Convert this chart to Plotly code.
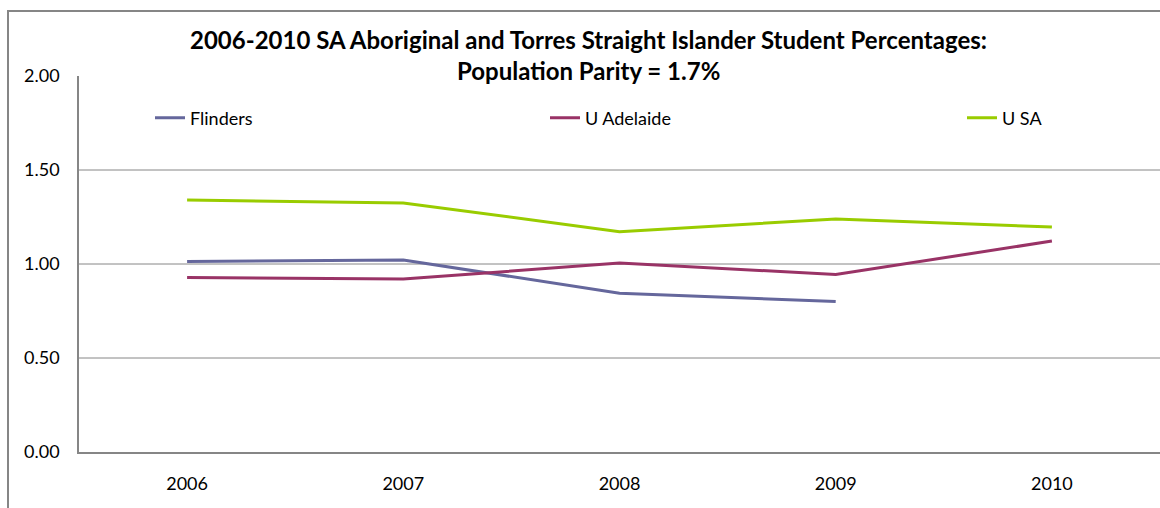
import plotly.graph_objects as go

years = ["2006", "2007", "2008", "2009", "2010"]
flinders = [1.013, 1.021, 0.845, 0.80, None]
u_adelaide = [0.928, 0.92, 1.005, 0.944, 1.122]
u_sa = [1.34, 1.325, 1.172, 1.239, 1.197]
y_ticks = [0.0, 0.5, 1.0, 1.5, 2.0]
y_tick_text = ["0.00", "0.50", "1.00", "1.50", "2.00"]
grid_vals = [0.5, 1.0, 1.5]

FONT = "Lato"
GRAY = "#868686"

W, H = 1160, 508
ML, MR, MT, MB = 79, 0, 76, 56
PW = W - ML - MR
PH = H - MT - MB


def px_x(x):
    return (x - ML) / PW


def px_y(y):
    return (H - MB - y) / PH


fig = go.Figure()
fig.add_trace(go.Scatter(x=years, y=flinders, mode="lines", name="Flinders",
                         line=dict(color="#65679C", width=3), legend="legend", showlegend=True))
fig.add_trace(go.Scatter(x=years, y=u_adelaide, mode="lines", name="U Adelaide",
                         line=dict(color="#993366", width=3), legend="legend2", showlegend=True))
fig.add_trace(go.Scatter(x=years, y=u_sa, mode="lines", name="U SA",
                         line=dict(color="#99CC00", width=3), legend="legend3", showlegend=True))

shapes = []
for v in grid_vals:
    shapes.append(dict(type="line", xref="paper", x0=0, x1=1, yref="y", y0=v, y1=v,
                       line=dict(color=GRAY, width=1), layer="below"))
# outer chart frame
shapes.append(dict(type="rect", xref="paper", yref="paper",
                   x0=px_x(8), x1=px_x(1175), y0=px_y(525), y1=px_y(11),
                   line=dict(color=GRAY, width=2), fillcolor="rgba(0,0,0,0)"))

legend_common = dict(orientation="h", yanchor="middle", xanchor="left",
                     bgcolor="rgba(0,0,0,0)", font=dict(family=FONT, size=18, color="#000"),
                     y=px_y(118))

fig.update_layout(
    width=W, height=H,
    margin=dict(l=ML, r=MR, t=MT, b=MB),
    paper_bgcolor="white", plot_bgcolor="white",
    font=dict(family=FONT, size=18, color="#000"),
    showlegend=True,
    shapes=shapes,
    legend=dict(x=px_x(150), **legend_common),
    legend2=dict(x=px_x(545), **legend_common),
    legend3=dict(x=px_x(962), **legend_common),
    annotations=[
        dict(text="<b>2006-2010 SA Aboriginal and Torres Straight Islander Student Percentages:</b>",
             xref="paper", yref="paper", x=px_x(588), y=px_y(39), showarrow=False,
             xanchor="center", yanchor="middle", font=dict(family=FONT, size=24, color="#000")),
        dict(text="<b>Population Parity = 1.7%</b>",
             xref="paper", yref="paper", x=px_x(588), y=px_y(71), showarrow=False,
             xanchor="center", yanchor="middle", font=dict(family=FONT, size=24, color="#000")),
    ],
    xaxis=dict(type="category", range=[-0.5, 4.5], showgrid=False, showline=True,
               linecolor=GRAY, linewidth=1.5, ticks="", ticklabelstandoff=15,
               tickfont=dict(family=FONT, size=18, color="#000"), fixedrange=True),
    yaxis=dict(range=[0, 2], tickvals=y_ticks, ticktext=y_tick_text, showgrid=False,
               zeroline=False, showline=True, linecolor=GRAY, linewidth=1.5, ticks="",
               ticklabelstandoff=14, tickfont=dict(family=FONT, size=18, color="#000"),
               fixedrange=True),
)

fig.write_html("out.html")
